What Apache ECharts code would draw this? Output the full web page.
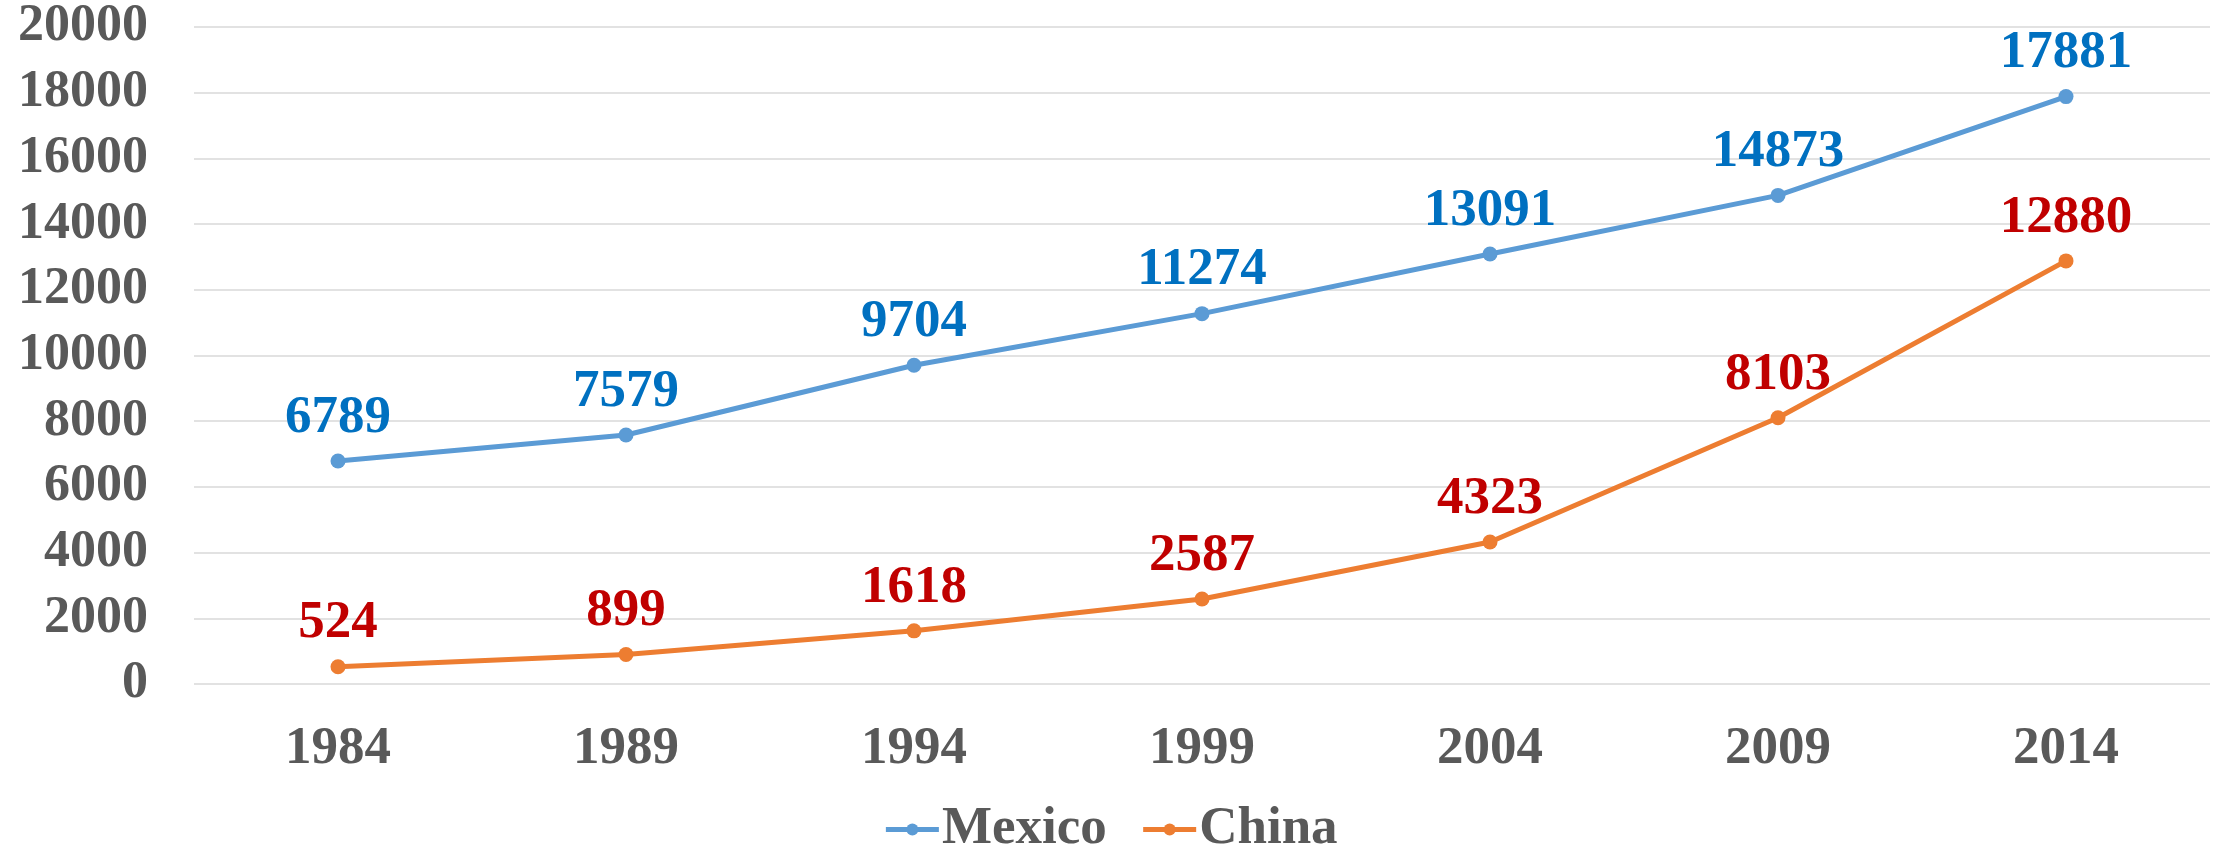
<!DOCTYPE html>
<html><head><meta charset="utf-8">
<script src="https://cdn.jsdelivr.net/npm/echarts@6/dist/echarts.min.js"></script>
<style>html,body{margin:0;padding:0;background:#fff}#c{width:2221px;height:849px}</style>
</head><body><div id="c"></div>
<script>
var years = ['1984','1989','1994','1999','2004','2009','2014'];
var mexico = [6789, 7579, 9704, 11274, 13091, 14873, 17881];
var china = [524, 899, 1618, 2587, 4323, 8103, 12880];
var yTicks = [0, 2000, 4000, 6000, 8000, 10000, 12000, 14000, 16000, 18000, 20000];

var FONT = '"Liberation Serif","Times New Roman",serif';
var chart = echarts.init(document.getElementById('c'));
chart.setOption({
  animation: false,
  backgroundColor: '#fff',
  grid: {left: 194, right: 11, top: 27, bottom: 165},
  legend: {
    bottom: -12, left: 'center',
    itemWidth: 53, itemHeight: 15, itemGap: 34,
    lineStyle: {width: 5},
    textStyle: {fontFamily: FONT, fontWeight: 'bold', fontSize: 53, color: '#595959', padding: [0,0,0,-2]},
    data: ['Mexico', 'China']
  },
  xAxis: {
    type: 'category', data: years, boundaryGap: true,
    axisLine: {show: false}, axisTick: {show: false},
    axisLabel: {fontFamily: FONT, fontWeight: 'bold', fontSize: 53, color: '#595959', margin: 39}
  },
  yAxis: {
    type: 'value', min: yTicks[0], max: yTicks[yTicks.length-1], interval: 2000,
    axisLine: {show: false}, axisTick: {show: false},
    splitLine: {lineStyle: {color: '#D9D9D9', width: 1.5}},
    axisLabel: {fontFamily: FONT, fontWeight: 'bold', fontSize: 52, color: '#595959', margin: 46,
      formatter: function (v) { return String(v); }}
  },
  series: [
    {name: 'Mexico', type: 'line', data: mexico, symbol: 'circle', symbolSize: 15,
     lineStyle: {color: '#5B9BD5', width: 5}, itemStyle: {color: '#5B9BD5'},
     label: {show: true, position: 'top', distance: 9, fontFamily: FONT, fontWeight: 'bold', fontSize: 53, color: '#0070C0'}},
    {name: 'China', type: 'line', data: china, symbol: 'circle', symbolSize: 15,
     lineStyle: {color: '#ED7D31', width: 5}, itemStyle: {color: '#ED7D31'},
     label: {show: true, position: 'top', distance: 9, fontFamily: FONT, fontWeight: 'bold', fontSize: 53, color: '#C00000'}}
  ]
});
</script></body></html>
